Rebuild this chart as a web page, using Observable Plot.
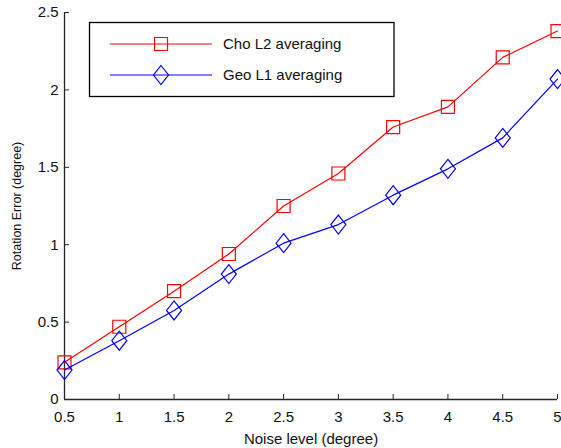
<!DOCTYPE html>
<html><head><meta charset="utf-8">
<script src="https://cdn.jsdelivr.net/npm/d3@7"></script>
<script src="https://cdn.jsdelivr.net/npm/@observablehq/plot@0.6"></script>
<style>
body{margin:0;background:#fff;}
svg{overflow:visible;font-family:"Liberation Sans",Arial,sans-serif;}
</style></head>
<body><div id="chart"></div>
<script>
const noise = [0.5, 1, 1.5, 2, 2.5, 3, 3.5, 4, 4.5, 5];
const choL2 = [0.24, 0.47, 0.70, 0.94, 1.25, 1.46, 1.76, 1.89, 2.21, 2.38];
const geoL1 = [0.19, 0.38, 0.575, 0.81, 1.01, 1.13, 1.32, 1.49, 1.69, 2.07];
const seriesNames = ["Cho L2 averaging", "Geo L1 averaging"];
const xTicks = [0.5, 1, 1.5, 2, 2.5, 3, 3.5, 4, 4.5, 5];
const yTicks = [0, 0.5, 1, 1.5, 2, 2.5];

const squareSym = {draw(ctx){ const h=6.5; ctx.moveTo(-h,-h); ctx.lineTo(h,-h); ctx.lineTo(h,h); ctx.lineTo(-h,h); ctx.closePath(); }};
const diamondSym = {draw(ctx){ const w=7.5, h=9.5; ctx.moveTo(0,-h); ctx.lineTo(w,0); ctx.lineTo(0,h); ctx.lineTo(-w,0); ctx.closePath(); }};

const red = "#ff0000", blue = "#0000ff";
const dataA = noise.map((x,i)=>({x, y: choL2[i]}));
const dataB = noise.map((x,i)=>({x, y: geoL1[i]}));
const fmt = d => String(d);

const plot = Plot.plot({
  width: 561, height: 448,
  marginLeft: 64, marginRight: 4, marginTop: 12, marginBottom: 49,
  style: {fontSize: "15px", fontFamily: "Liberation Sans, Arial, sans-serif", color: "#000", background: "#fff"},
  x: {domain: [0.5, 5]},
  y: {domain: [0, 2.5]},
  marks: [
    Plot.ruleY([0], {stroke: "#262626", strokeWidth: 1.3}),
    Plot.ruleX([0.5], {stroke: "#262626", strokeWidth: 1.3}),
    Plot.axisX({ticks: xTicks, tickFormat: fmt, tickSize: -5, tickPadding: 16.5, stroke: "#262626", fill: "#111", fontSize: 15, label: null}),
    Plot.axisX({ticks: [], label: "Noise level (degree)", labelAnchor: "center", labelArrow: "none", labelOffset: 44, fontSize: 15, fill: "#111"}),
    Plot.axisY({ticks: yTicks, tickFormat: fmt, tickSize: -5, tickPadding: 11, stroke: "#262626", fill: "#111", fontSize: 15, label: null}),
    Plot.axisY({ticks: [], label: "Rotation Error (degree)", labelAnchor: "center", labelArrow: "none", labelOffset: 52, fontSize: 12.5, fill: "#111"}),
    Plot.line(dataA, {x: "x", y: "y", stroke: red, strokeWidth: 1.2}),
    Plot.dot(dataA, {x: "x", y: "y", stroke: red, fill: "none", symbol: squareSym, strokeWidth: 1.2}),
    Plot.line(dataB, {x: "x", y: "y", stroke: blue, strokeWidth: 1.2}),
    Plot.dot(dataB, {x: "x", y: "y", stroke: blue, fill: "none", symbol: diamondSym, strokeWidth: 1.2})
  ]
});
document.getElementById("chart").appendChild(plot);

// legend
const svg = d3.select(plot);
const lg = svg.append("g").attr("text-anchor", "start");
lg.append("rect").attr("x", 89.5).attr("y", 22.5).attr("width", 304.5).attr("height", 74)
  .attr("fill", "#fff").attr("stroke", "#000").attr("stroke-width", 1.3);
const entries = [{name: seriesNames[0], color: red, sym: squareSym, y: 44},
                 {name: seriesNames[1], color: blue, sym: diamondSym, y: 75}];
for (const e of entries) {
  lg.append("line").attr("x1", 110).attr("x2", 212).attr("y1", e.y).attr("y2", e.y).attr("stroke", e.color).attr("stroke-width", 1.2);
  const p = d3.path(); e.sym.draw(p);
  lg.append("path").attr("d", p.toString()).attr("transform", `translate(161,${e.y})`).attr("fill", "none").attr("stroke", e.color).attr("stroke-width", 1.2);
  lg.append("text").attr("x", 223).attr("y", e.y).attr("dy", "0.35em").attr("font-size", 15).attr("fill", "#111").text(e.name);
}
</script></body></html>
